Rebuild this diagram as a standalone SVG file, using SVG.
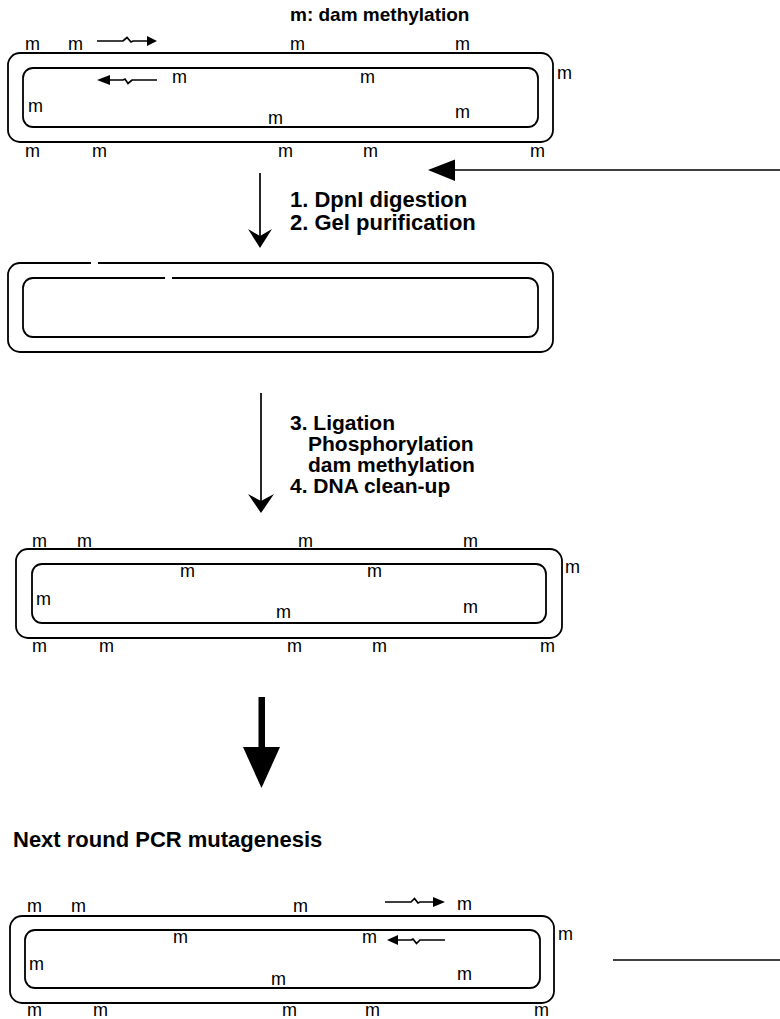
<svg xmlns="http://www.w3.org/2000/svg" width="780" height="1019" viewBox="0 0 780 1019">
<style>
.m{font-family:"Liberation Sans",Arial,sans-serif;font-size:18px;fill:#000}
.b{font-family:"Liberation Sans",Arial,sans-serif;font-weight:bold;fill:#000}
.st{fill:none;stroke:#000;stroke-width:1.8}
.ln{fill:none;stroke:#000;stroke-width:1.7}
.hd{fill:#000;stroke:none}
</style>
<rect width="780" height="1019" fill="#fff"/>
<text class="b" x="290" y="21" font-size="19">m: dam methylation</text>

<g id="plasmid1">
<rect class="st" x="8" y="53" width="545" height="89" rx="12"/>
<rect class="st" x="23" y="68" width="515" height="59" rx="10"/>
<text class="m" x="25" y="50">m</text>
<text class="m" x="68" y="50">m</text>
<text class="m" x="290" y="50">m</text>
<text class="m" x="455" y="50">m</text>
<text class="m" x="557" y="79">m</text>
<text class="m" x="172" y="83">m</text>
<text class="m" x="360" y="83">m</text>
<text class="m" x="28" y="112">m</text>
<text class="m" x="268" y="124">m</text>
<text class="m" x="455" y="118">m</text>
<text class="m" x="25" y="157">m</text>
<text class="m" x="92" y="157">m</text>
<text class="m" x="278" y="157">m</text>
<text class="m" x="363" y="157">m</text>
<text class="m" x="530" y="157">m</text>
<path class="ln" d="M97,41 H123 L127,37.5 L131,42 L133,41 H148"/>
<polygon class="hd" points="147,36 157,41 147,46"/>
<path class="ln" d="M157,80 H132 L128,83.5 L125,79 L123,80 H109"/>
<polygon class="hd" points="97,80 110,75 110,85"/>
</g>

<g id="plasmid2">
<path class="st" d="M98,263 H541 A12,12 0 0 1 553,275 V340 A12,12 0 0 1 541,352 H20 A12,12 0 0 1 8,340 V275 A12,12 0 0 1 20,263 H91"/>
<path class="st" d="M172,278 H528 A10,10 0 0 1 538,288 V327 A10,10 0 0 1 528,337 H33 A10,10 0 0 1 23,327 V288 A10,10 0 0 1 33,278 H165"/>
</g>

<g id="plasmid3">
<rect class="st" x="16" y="549" width="546" height="89" rx="12"/>
<rect class="st" x="32" y="564" width="514" height="59" rx="10"/>
<text class="m" x="32" y="547">m</text>
<text class="m" x="77" y="547">m</text>
<text class="m" x="298" y="547">m</text>
<text class="m" x="463" y="547">m</text>
<text class="m" x="565" y="573">m</text>
<text class="m" x="180" y="577">m</text>
<text class="m" x="367" y="577">m</text>
<text class="m" x="36" y="605">m</text>
<text class="m" x="276" y="618">m</text>
<text class="m" x="463" y="613">m</text>
<text class="m" x="32" y="652">m</text>
<text class="m" x="99" y="652">m</text>
<text class="m" x="287" y="652">m</text>
<text class="m" x="372" y="652">m</text>
<text class="m" x="540" y="652">m</text>
</g>

<text class="b" x="13" y="847" font-size="22">Next round PCR mutagenesis</text>

<g id="plasmid4">
<rect class="st" x="10" y="916" width="544" height="87" rx="12"/>
<rect class="st" x="25" y="930" width="515" height="58" rx="10"/>
<text class="m" x="27" y="912">m</text>
<text class="m" x="71" y="912">m</text>
<text class="m" x="293" y="912">m</text>
<text class="m" x="457" y="910">m</text>
<text class="m" x="558" y="940">m</text>
<text class="m" x="173" y="943">m</text>
<text class="m" x="362" y="943">m</text>
<text class="m" x="29" y="970">m</text>
<text class="m" x="271" y="985">m</text>
<text class="m" x="457" y="980">m</text>
<text class="m" x="27" y="1016">m</text>
<text class="m" x="93" y="1016">m</text>
<text class="m" x="282" y="1016">m</text>
<text class="m" x="365" y="1016">m</text>
<text class="m" x="534" y="1016">m</text>
<path class="ln" d="M385,902 H411 L414.5,898.5 L418,903 L420,902 H434"/>
<polygon class="hd" points="433,897 445,902 433,907"/>
<path class="ln" d="M445,940 H420 L416.5,943.5 L413,939 L411,940 H397"/>
<polygon class="hd" points="387,940 398,935 398,945"/>
</g>

<g id="connectors">
<line class="ln" x1="780" y1="170" x2="454" y2="170"/>
<polygon class="hd" points="428,170 455,159.5 455,181"/>
<line class="ln" x1="260" y1="173" x2="260" y2="240"/>
<path class="hd" d="M260,248 L248,229 L260,236 L272,229 Z"/>
<line class="ln" x1="261" y1="393" x2="261" y2="505"/>
<path class="hd" d="M261,513 L248,494 L261,501 L274,494 Z"/>
<rect class="hd" x="258.5" y="697" width="6.5" height="52"/>
<polygon class="hd" points="243,747 280,747 261.5,788"/>
<line class="ln" x1="613" y1="960" x2="780" y2="960"/>
</g>

<g id="labels">
<text class="b" font-size="22"><tspan x="290" y="207">1. DpnI digestion</tspan><tspan x="290" y="230">2. Gel purification</tspan></text>
<text class="b" font-size="21"><tspan x="290" y="430">3. Ligation</tspan><tspan x="308" y="451">Phosphorylation</tspan><tspan x="308" y="472">dam methylation</tspan><tspan x="290" y="493">4. DNA clean-up</tspan></text>
</g>
</svg>
